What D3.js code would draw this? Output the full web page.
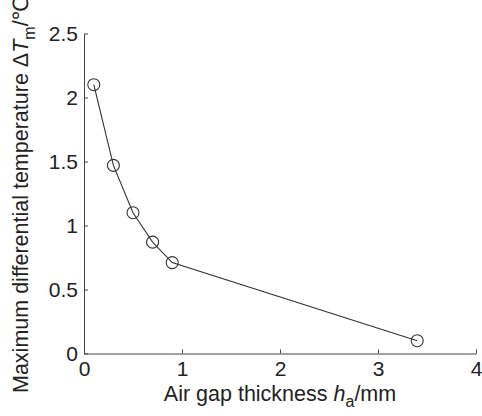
<!DOCTYPE html>
<html><head><meta charset="utf-8">
<script src="https://cdn.jsdelivr.net/npm/d3@7/dist/d3.min.js"></script>
<style>body{margin:0;background:#fff;}text{font-family:"Liberation Sans",Arial,sans-serif;fill:#222;}</style>
</head><body>
<script>
const gapThickness = [0.1, 0.3, 0.5, 0.7, 0.9, 3.4];
const maxDiffTemp = [2.1, 1.47, 1.1, 0.87, 0.71, 0.1];
const xTicks = [0, 1, 2, 3, 4];
const yTicks = [0, 0.5, 1, 1.5, 2, 2.5];

const W = 482, H = 416;
const svg = d3.select("body").append("svg").attr("width", W).attr("height", H);
const x = d3.scaleLinear().domain([0, 4]).range([84, 476]);
const y = d3.scaleLinear().domain([0, 2.5]).range([353.5, 33.5]);

const xAxis = svg.append("g").attr("transform", `translate(0,${y(0)})`)
  .call(d3.axisBottom(x).tickValues(xTicks).tickFormat(d3.format("")).tickSizeInner(-4).tickSizeOuter(0).tickPadding(8));
const yAxis = svg.append("g").attr("transform", `translate(${x(0)},0)`)
  .call(d3.axisLeft(y).tickValues(yTicks).tickFormat(d3.format("")).tickSizeInner(-4).tickSizeOuter(0).tickPadding(6));
[xAxis, yAxis].forEach(g => {
  g.select(".domain").attr("stroke", "#444").attr("stroke-width", 1);
  g.selectAll(".tick line").attr("stroke", "#444");
  g.selectAll(".tick text").attr("font-size", 21).attr("fill", "#222")
    .attr("font-family", "Liberation Sans, Arial, sans-serif");
});

const pts = gapThickness.map((d, i) => [d, maxDiffTemp[i]]);
svg.append("path").datum(pts)
  .attr("fill", "none").attr("stroke", "#333").attr("stroke-width", 1.1)
  .attr("d", d3.line().x(d => x(d[0])).y(d => y(d[1])));
svg.selectAll("circle.pt").data(pts).enter().append("circle")
  .attr("class", "pt").attr("cx", d => x(d[0])).attr("cy", d => y(d[1])).attr("r", 6)
  .attr("fill", "none").attr("stroke", "#333").attr("stroke-width", 1.1);

// x label
const xl = svg.append("text").attr("x", 280).attr("y", 401).attr("text-anchor", "middle").attr("font-size", 21.5);
xl.append("tspan").text("Air gap thickness ");
xl.append("tspan").attr("font-style", "italic").text("h");
xl.append("tspan").attr("font-size", 16).attr("dy", 6).text("a");
xl.append("tspan").attr("dy", -6).text("/mm");

// y label
const yl = svg.append("text").attr("transform", "translate(28,393) rotate(-90)")
  .attr("text-anchor", "start").attr("font-size", 21.5);
yl.append("tspan").text("Maximum differential temperature Δ");
yl.append("tspan").attr("font-style", "italic").text("T");
yl.append("tspan").attr("font-size", 16).attr("dy", 7).text("m");
yl.append("tspan").attr("dy", -7).text("/℃");
</script>
</body></html>
